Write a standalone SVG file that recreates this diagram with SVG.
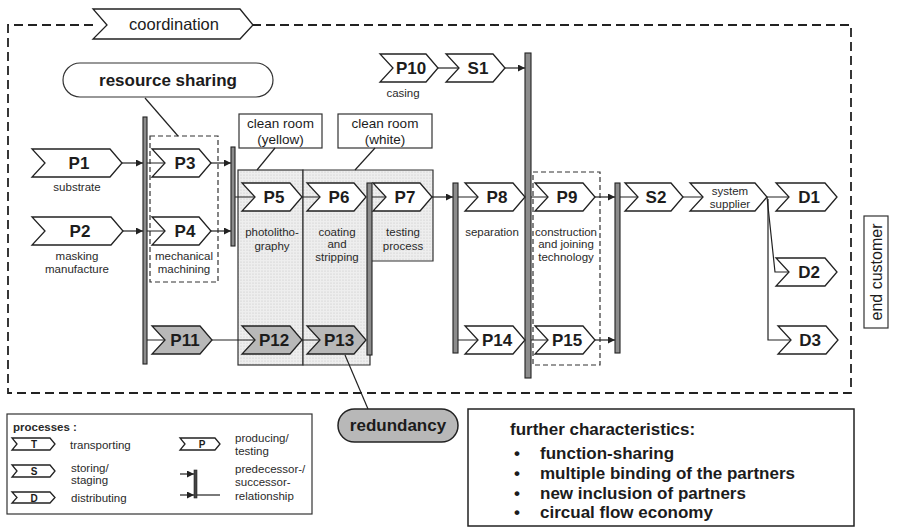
<svg xmlns="http://www.w3.org/2000/svg" width="897" height="529" viewBox="0 0 897 529">
<style>
text{font-family:"Liberation Sans",Arial,sans-serif;fill:#1c1c1c}
.pl{font-size:17px;font-weight:bold;text-anchor:middle}
.sm{font-size:11.5px;text-anchor:middle;fill:#2a2a2a}
.lg{font-size:11.5px;fill:#2a2a2a}
.ch{fill:#fff;stroke:#222;stroke-width:1.3}
.chg{fill:#b8b8b8;stroke:#222;stroke-width:1.3}
.bar{fill:#8c8c8c;stroke:#222;stroke-width:1.1}
.ln{fill:none;stroke:#222;stroke-width:1.2}
.ar{fill:none;stroke:#222;stroke-width:1.2;marker-end:url(#ah)}
.dbox{fill:none;stroke:#333;stroke-width:1.2;stroke-dasharray:5 3}
.box{fill:#fff;stroke:#333;stroke-width:1.2}
.big{font-size:17px;font-weight:bold}
</style>
<defs>
<marker id="ah" viewBox="0 0 10 10" refX="10" refY="5" markerWidth="8" markerHeight="7" markerUnits="userSpaceOnUse" orient="auto"><path d="M0,0 L10,5 L0,10 z" fill="#222"/></marker>
<pattern id="dots" width="3" height="3" patternUnits="userSpaceOnUse"><rect width="3" height="3" fill="#eeeeee"/><circle cx="1" cy="1" r="0.6" fill="#c4c4c4"/></pattern>
</defs>

<!-- outer coordination frame -->
<path d="M93,25 H8 V393 H851 V25 H253" fill="none" stroke="#222" stroke-width="1.8" stroke-dasharray="9 5"/>

<g id="coordination">
<path d="M93,9 H240 L253,25 L240,39 H93 L107,25 Z" class="ch"/>
<text x="174" y="30" font-size="16.5" text-anchor="middle">coordination</text>
</g>

<!-- shaded clean room areas -->
<g id="cleanroom-yellow">
<rect x="238" y="170" width="65" height="195" fill="url(#dots)" stroke="#333" stroke-width="1.2"/>
<rect x="239" y="114" width="83" height="34" class="box"/>
<text x="280.5" y="128" font-size="13.5" text-anchor="middle">clean room</text>
<text x="280.5" y="144" font-size="13.5" text-anchor="middle">(yellow)</text>
</g>
<g id="cleanroom-white">
<path d="M303,170 H433 V261 H370 V365 H303 Z" fill="url(#dots)" stroke="#333" stroke-width="1.2"/>
<rect x="338" y="114" width="94" height="34" class="box"/>
<text x="385" y="128" font-size="13.5" text-anchor="middle">clean room</text>
<text x="385" y="144" font-size="13.5" text-anchor="middle">(white)</text>
</g>

<!-- dashed grouping boxes -->
<g id="group-p3-p4"><rect x="150" y="136" width="68" height="146" class="dbox"/></g>
<g id="group-p9-p15"><rect x="533" y="172" width="67" height="193" class="dbox"/></g>

<g id="resource-sharing">
<rect x="63" y="63" width="210" height="34" rx="17" class="box" stroke-width="1.5"/>
<text x="168" y="86" class="big" font-size="16.5" text-anchor="middle">resource sharing</text>
</g>

<g id="connectors">
<path class="ln" d="M145,98 L178,136"/>
<path class="ln" d="M275,148 L257,170"/>
<path class="ln" d="M375,148 L355,170"/>
<path class="ln" d="M345,355 L368,409"/>
<path class="ar" d="M122,163 H143"/>
<path class="ar" d="M123,231 H143"/>
<path class="ln" d="M147,163 H165 M147,231 H165 M147,340 H165"/>
<path class="ar" d="M211,163 H231"/>
<path class="ar" d="M211,231 H231"/>
<path class="ln" d="M235,197 H255 M302,197 H320 M372,197 H386"/>
<path class="ln" d="M212,340 H255 M302,340 H320"/>
<path class="ar" d="M432,197 H453"/>
<path class="ln" d="M458,197 H478 M458,340 H478"/>
<path class="ln" d="M531,197 H548 M531,340 H548"/>
<path class="ln" d="M438,68 H459"/>
<path class="ar" d="M505,68 H525"/>
<path class="ar" d="M595,197 H615"/>
<path class="ar" d="M595,340 H615"/>
<path class="ln" d="M620,197 H638 M683,197 H703 M767,197 H789"/>
<path class="ln" d="M767,197 L775,272 H789"/>
<path class="ln" d="M768,199 V340 H791"/>
</g>

<!-- predecessor/successor bars -->
<g id="bar1"><rect x="143" y="117" width="4" height="247" class="bar"/></g>
<g id="bar2"><rect x="231" y="147" width="4" height="99" class="bar"/></g>
<g id="bar3"><rect x="367" y="183" width="5" height="172" class="bar"/></g>
<g id="bar4"><rect x="453" y="183" width="5" height="170" class="bar"/></g>
<g id="bar5"><rect x="525" y="53" width="6" height="325" class="bar"/></g>
<g id="bar6"><rect x="615" y="183" width="5" height="170" class="bar"/></g>

<!-- process nodes -->
<g id="P1"><path class="ch" d="M32,149 H110 L122,163 L110,177 H32 L45,163 Z"/><text class="pl" x="79" y="169">P1</text>
<text class="sm" x="77" y="191">substrate</text></g>
<g id="P2"><path class="ch" d="M32,217 H111 L123,231 L111,245 H32 L45,231 Z"/><text class="pl" x="80" y="237">P2</text>
<text class="sm" x="77" y="260">masking</text><text class="sm" x="77" y="273">manufacture</text></g>
<g id="P3"><path class="ch" d="M152,149 H199 L211,163 L199,177 H152 L165,163 Z"/><text class="pl" x="185" y="169">P3</text></g>
<g id="P4"><path class="ch" d="M152,217 H199 L211,231 L199,245 H152 L165,231 Z"/><text class="pl" x="185" y="237">P4</text>
<text class="sm" x="184" y="260">mechanical</text><text class="sm" x="184" y="273">machining</text></g>
<g id="P11"><path class="chg" d="M152,326 H200 L212,340 L200,354 H152 L165,340 Z"/><text class="pl" x="185" y="346">P11</text></g>
<g id="P5"><path class="ch" d="M242,183 H290 L302,197 L290,211 H242 L255,197 Z"/><text class="pl" x="274" y="203">P5</text>
<text class="sm" x="272" y="236">photolitho-</text><text class="sm" x="272" y="250">graphy</text></g>
<g id="P6"><path class="ch" d="M307,183 H354 L366,197 L354,211 H307 L320,197 Z"/><text class="pl" x="339" y="203">P6</text>
<text class="sm" x="337" y="236">coating</text><text class="sm" x="337" y="248">and</text><text class="sm" x="337" y="261">stripping</text></g>
<g id="P7"><path class="ch" d="M373,183 H420 L432,197 L420,211 H373 L386,197 Z"/><text class="pl" x="405" y="203">P7</text>
<text class="sm" x="403" y="236">testing</text><text class="sm" x="403" y="250">process</text></g>
<g id="P12"><path class="chg" d="M242,326 H290 L302,340 L290,354 H242 L255,340 Z"/><text class="pl" x="274" y="346">P12</text></g>
<g id="P13"><path class="chg" d="M307,326 H354 L366,340 L354,354 H307 L320,340 Z"/><text class="pl" x="339" y="346">P13</text></g>
<g id="P10"><path class="ch" d="M380,54 H426 L438,68 L426,82 H380 L393,68 Z"/><text class="pl" x="411" y="74">P10</text>
<text class="sm" x="403" y="97" font-size="12.5">casing</text></g>
<g id="S1"><path class="ch" d="M446,54 H493 L505,68 L493,82 H446 L459,68 Z"/><text class="pl" x="478" y="74">S1</text></g>
<g id="P8"><path class="ch" d="M465,183 H513 L525,197 L513,211 H465 L478,197 Z"/><text class="pl" x="497" y="203">P8</text>
<text class="sm" x="492" y="236">separation</text></g>
<g id="P14"><path class="ch" d="M465,326 H513 L525,340 L513,354 H465 L478,340 Z"/><text class="pl" x="497" y="346">P14</text></g>
<g id="P9"><path class="ch" d="M535,183 H583 L595,197 L583,211 H535 L548,197 Z"/><text class="pl" x="567" y="203">P9</text>
<text class="sm" x="566" y="236">construction</text><text class="sm" x="566" y="248">and joining</text><text class="sm" x="566" y="261">technology</text></g>
<g id="P15"><path class="ch" d="M535,326 H583 L595,340 L583,354 H535 L548,340 Z"/><text class="pl" x="567" y="346">P15</text></g>
<g id="S2"><path class="ch" d="M625,183 H671 L683,197 L671,211 H625 L638,197 Z"/><text class="pl" x="656" y="203">S2</text></g>
<g id="system-supplier"><path class="ch" stroke-width="2" d="M690,183 H755 L767,197 L755,211 H690 L703,197 Z"/>
<text class="sm" x="730" y="195" font-size="11">system</text><text class="sm" x="730" y="208" font-size="11">supplier</text></g>
<g id="D1"><path class="ch" d="M776,183 H825 L837,197 L825,211 H776 L789,197 Z"/><text class="pl" x="809" y="203">D1</text></g>
<g id="D2"><path class="ch" d="M776,258 H825 L837,272 L825,286 H776 L789,272 Z"/><text class="pl" x="809" y="278">D2</text></g>
<g id="D3"><path class="ch" d="M778,326 H826 L838,340 L826,354 H778 L791,340 Z"/><text class="pl" x="810" y="346">D3</text></g>

<g id="end-customer">
<rect x="864" y="216" width="24" height="112" class="box"/>
<text x="0" y="0" font-size="16" text-anchor="middle" transform="translate(882,272) rotate(-90)">end customer</text>
</g>

<g id="redundancy">
<rect x="338" y="409" width="120" height="33" rx="16.5" fill="#b8b8b8" stroke="#222" stroke-width="1.5"/>
<text x="398" y="431" class="big" text-anchor="middle">redundancy</text>
</g>

<g id="legend">
<rect x="7" y="414" width="305" height="100" fill="#fff" stroke="#333" stroke-width="1.2"/>
<text x="13" y="431" class="lg" font-weight="bold">processes :</text>
<path class="ch" stroke-width="1" d="M12,438 H50 L55,444 L50,450 H12 L17,444 Z"/><text x="34" y="448" font-size="10" font-weight="bold" text-anchor="middle">T</text>
<text x="70" y="449" class="lg">transporting</text>
<path class="ch" stroke-width="1" d="M12,465 H50 L55,471 L50,477 H12 L17,471 Z"/><text x="34" y="475" font-size="10" font-weight="bold" text-anchor="middle">S</text>
<text x="71" y="472" class="lg">storing/</text><text x="71" y="484" class="lg">staging</text>
<path class="ch" stroke-width="1" d="M12,492 H50 L55,497.5 L50,503 H12 L17,497.5 Z"/><text x="34" y="501.5" font-size="10" font-weight="bold" text-anchor="middle">D</text>
<text x="71" y="502" class="lg">distributing</text>
<path class="ch" stroke-width="1" d="M180,438 H215 L220,444 L215,450 H180 L185,444 Z"/><text x="202" y="448" font-size="10" font-weight="bold" text-anchor="middle">P</text>
<text x="235" y="442" class="lg">producing/</text><text x="235" y="455" class="lg">testing</text>
<rect x="194" y="470" width="3" height="28" fill="#444" stroke="#222" stroke-width="0.6"/>
<path class="ar" d="M180,474 H194"/>
<path class="ar" d="M180,495 H194"/>
<path class="ln" d="M197,495 H220"/>
<text x="235" y="473" class="lg">predecessor-/</text><text x="235" y="486" class="lg">successor-</text><text x="235" y="500" class="lg">relationship</text>
</g>

<g id="further-characteristics">
<rect x="468" y="409" width="386" height="117" fill="#fff" stroke="#222" stroke-width="1.5"/>
<text x="510" y="435" class="big">further characteristics:</text>
<text x="514" y="459" class="big">•</text><text x="540" y="459" class="big">function-sharing</text>
<text x="514" y="479" class="big">•</text><text x="540" y="479" class="big">multiple binding of the partners</text>
<text x="514" y="499" class="big">•</text><text x="540" y="499" class="big">new inclusion of partners</text>
<text x="514" y="518" class="big">•</text><text x="540" y="518" class="big">circual flow economy</text>
</g>
</svg>
